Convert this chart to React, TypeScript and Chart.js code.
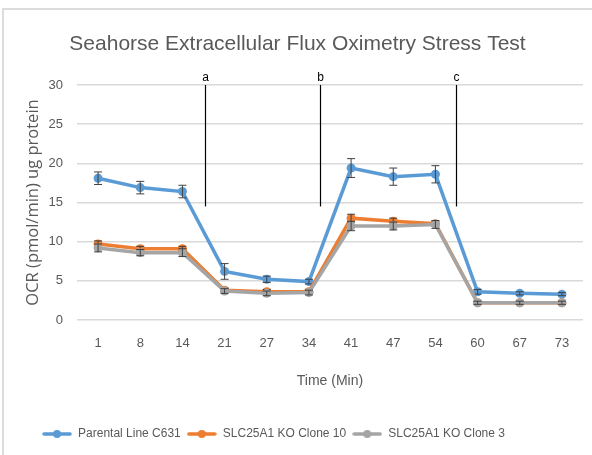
import React, { useEffect, useRef } from "react";
import { Chart, registerables } from "chart.js";

Chart.register(...registerables);

const times = ["1", "8", "14", "21", "27", "34", "41", "47", "54", "60", "67", "73"];
const parental = [18.1, 16.9, 16.4, 6.2, 5.2, 4.9, 19.4, 18.3, 18.6, 3.6, 3.4, 3.3];
const clone10 = [9.7, 9.1, 9.1, 3.8, 3.6, 3.6, 13.0, 12.6, 12.3, 2.2, 2.2, 2.2];
const clone3 = [9.2, 8.6, 8.6, 3.7, 3.4, 3.5, 12.0, 12.0, 12.2, 2.2, 2.2, 2.2];
const parentalErr = [0.8, 0.8, 0.8, 1.0, 0.4, 0.3, 1.2, 1.1, 1.1, 0.3, 0.2, 0.2];
const clone10Err = [0.4, 0.3, 0.3, 0.3, 0.3, 0.3, 0.5, 0.4, 0.3, 0.2, 0.2, 0.2];
const clone3Err = [0.5, 0.4, 0.5, 0.3, 0.3, 0.3, 0.6, 0.5, 0.5, 0.2, 0.2, 0.2];
const seriesNames = ["Parental Line C631", "SLC25A1 KO Clone 10", "SLC25A1 KO Clone 3"];
const seriesColors = ["#5B9BD5", "#ED7D31", "#A5A5A5"];
const markerLabels = ["a", "b", "c"];
const markerPositions = [2.53, 5.26, 8.48];
const markerTop = 30;
const markerBottom = 14.5;

const FONT = '"Liberation Sans", Arial, sans-serif';
const GREY_TEXT = "#595959";
const PAD_BOTTOM = 5;
const PAD_LEFT = 12;
const LEGEND_SHIFT = 24;

function legendIcon(color: string) {
  const c = document.createElement("canvas");
  c.width = 30;
  c.height = 10;
  const ctx = c.getContext("2d")!;
  ctx.strokeStyle = color;
  ctx.lineWidth = 3.5;
  ctx.lineCap = "round";
  ctx.beginPath();
  ctx.moveTo(2, 5);
  ctx.lineTo(28, 5);
  ctx.stroke();
  ctx.fillStyle = color;
  ctx.beginPath();
  ctx.arc(15, 5, 4, 0, Math.PI * 2);
  ctx.fill();
  return c;
}

const errorBarsPlugin = {
  id: "errorBars",
  afterDatasetDraw(chart: any, args: any) {
    const ds = chart.data.datasets[args.index];
    const errs: number[] = ds.errorBars;
    if (!errs) return;
    const y = chart.scales.y;
    const ctx = chart.ctx;
    ctx.save();
    ctx.strokeStyle = "#404040";
    ctx.lineWidth = 1;
    args.meta.data.forEach((pt: any, i: number) => {
      const v = ds.data[i];
      const e = errs[i];
      const x = pt.x;
      const y1 = y.getPixelForValue(v + e);
      const y2 = y.getPixelForValue(v - e);
      ctx.beginPath();
      ctx.moveTo(x, y1);
      ctx.lineTo(x, y2);
      ctx.moveTo(x - 4, y1);
      ctx.lineTo(x + 4, y1);
      ctx.moveTo(x - 4, y2);
      ctx.lineTo(x + 4, y2);
      ctx.stroke();
    });
    ctx.restore();
  },
};

const markersPlugin = {
  id: "markers",
  afterDraw(chart: any) {
    const x = chart.scales.x;
    const y = chart.scales.y;
    const ctx = chart.ctx;
    ctx.save();
    ctx.strokeStyle = "#000000";
    ctx.lineWidth = 1.2;
    ctx.fillStyle = "#000000";
    ctx.font = '12px "Liberation Sans", Arial, sans-serif';
    ctx.textAlign = "center";
    ctx.textBaseline = "alphabetic";
    markerPositions.forEach((p, i) => {
      const px = Math.round(x.getPixelForValue(p)) + 0.5;
      const yt = y.getPixelForValue(markerTop);
      const yb = y.getPixelForValue(markerBottom);
      ctx.beginPath();
      ctx.moveTo(px, yt);
      ctx.lineTo(px, yb);
      ctx.stroke();
      ctx.fillText(markerLabels[i], px, yt - 4);
    });
    ctx.restore();
  },
};

const legendShiftPlugin = {
  id: "legendShift",
  afterLayout(chart: any) {
    const lg = chart.legend;
    if (!lg) return;
    lg.left -= LEGEND_SHIFT;
    lg.right -= LEGEND_SHIFT;
  },
};

export default function App() {
  const ref = useRef<HTMLCanvasElement | null>(null);

  useEffect(() => {
    if (!ref.current) return;
    const values = [parental, clone10, clone3];
    const errs = [parentalErr, clone10Err, clone3Err];
    const chart = new Chart(ref.current, {
      type: "line",
      data: {
        labels: times,
        datasets: seriesNames.map((name, i) => ({
          label: name,
          data: values[i],
          errorBars: errs[i],
          borderColor: seriesColors[i],
          backgroundColor: seriesColors[i],
          pointBackgroundColor: seriesColors[i],
          pointBorderColor: seriesColors[i],
          borderWidth: 3.5,
          pointRadius: 4.5,
          pointBorderWidth: 0,
          tension: 0,
          order: 3 - i,
        })) as any,
      },
      options: {
        responsive: false,
        animation: false,
        devicePixelRatio: 1,
        layout: { padding: { left: PAD_LEFT, right: 9, top: 0, bottom: PAD_BOTTOM } },
        plugins: {
          tooltip: { enabled: false },
          title: {
            display: true,
            text: "Seahorse Extracellular Flux Oximetry Stress Test",
            color: GREY_TEXT,
            font: { family: FONT, size: 21, weight: "normal" },
            padding: { top: 31.4, bottom: 28.4 },
          },
          legend: {
            position: "bottom",
            labels: {
              usePointStyle: true,
              pointStyleWidth: 30,
              padding: 6,
              color: GREY_TEXT,
              font: { family: FONT, size: 12 },
              sort: (a: any, b: any) => a.datasetIndex - b.datasetIndex,
              generateLabels: (ch: any) =>
                ch.data.datasets.map((ds: any, i: number) => ({
                  text: ds.label,
                  pointStyle: legendIcon(seriesColors[i]),
                  fillStyle: seriesColors[i],
                  strokeStyle: seriesColors[i],
                  lineWidth: 0,
                  datasetIndex: i,
                  hidden: false,
                  fontColor: GREY_TEXT,
                })),
            },
          },
        },
        scales: {
          x: {
            offset: true,
            grid: { display: false, drawTicks: false, offset: true },
            border: { display: false },
            ticks: {
              color: GREY_TEXT,
              font: { family: FONT, size: 13 },
              padding: 16,
              maxRotation: 0,
            },
            title: {
              display: true,
              text: "Time (Min)",
              color: GREY_TEXT,
              font: { family: FONT, size: 14 },
              padding: { top: 0, bottom: 32.6 },
            },
            afterFit: (scale: any) => {
              const lg = scale.chart.legend;
              scale.height = 455 - 320 - PAD_BOTTOM - (lg ? lg.height : 35);
            },
          },
          y: {
            min: 0,
            max: 30,
            ticks: {
              stepSize: 5,
              color: GREY_TEXT,
              font: { family: FONT, size: 13 },
              padding: 14,
            },
            grid: { color: "#d9d9d9", lineWidth: 1.5, drawTicks: false },
            border: { display: false },
            title: {
              display: true,
              text: "OCR (pmol/min) ug protein",
              color: GREY_TEXT,
              font: { family: '"Open Sans", sans-serif', size: 16.5 },
              padding: { top: 11, bottom: 0 },
            },
            afterFit: (scale: any) => {
              scale.width = 77 - PAD_LEFT;
            },
          },
        },
      },
      plugins: [errorBarsPlugin, markersPlugin, legendShiftPlugin],
    } as any);
    return () => chart.destroy();
  }, []);

  return (
    <div
      style={{
        position: "absolute",
        left: 0,
        top: 0,
        width: 592,
        height: 455,
        overflow: "hidden",
        background: "#ffffff",
      }}
    >
      <div
        style={{
          position: "absolute",
          left: 2,
          top: 8,
          width: 620,
          height: 480,
          borderTop: "2px solid #dcdcdc",
          borderLeft: "2px solid #dcdcdc",
        }}
      />
      <canvas
        ref={ref}
        width={592}
        height={455}
        style={{ position: "absolute", left: 0, top: 0, width: 592, height: 455 }}
      />
    </div>
  );
}
